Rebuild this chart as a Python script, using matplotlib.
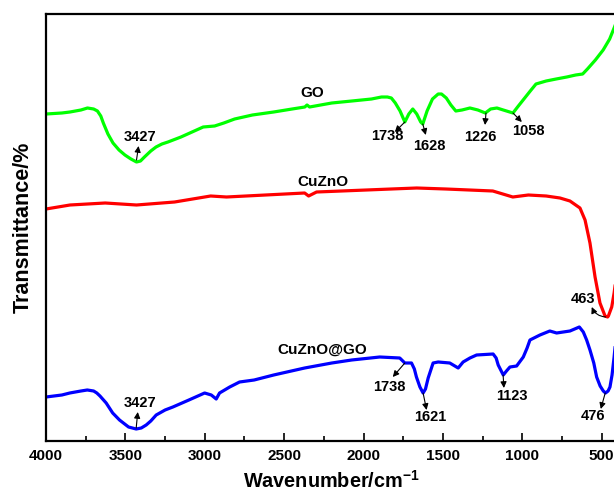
import matplotlib
matplotlib.use("Agg")
import matplotlib.pyplot as plt

plt.rcParams['font.family'] = ['Liberation Sans', 'DejaVu Sans']
plt.rcParams['font.weight'] = 'bold'
plt.rcParams['axes.labelweight'] = 'bold'
plt.rcParams['mathtext.fontset'] = 'custom'
plt.rcParams['mathtext.bf'] = 'Liberation Sans:bold'
plt.rcParams['mathtext.rm'] = 'Liberation Sans:bold'

# FTIR spectra, transmittance in arbitrary units (offset curves)
go_wn = [4000, 3900, 3849, 3780, 3739, 3700, 3676, 3655, 3639, 3610, 3578, 3540, 3503,
         3465, 3430, 3405, 3380, 3340, 3307, 3270, 3232, 3150, 3080, 3010, 2938, 2880,
         2812, 2700, 2566, 2450, 2370, 2356, 2340, 2200, 2074, 1950, 1887, 1850, 1825,
         1800, 1770, 1740, 1715, 1690, 1665, 1640, 1627, 1600, 1566, 1530, 1509, 1479,
         1450, 1419, 1380, 1330, 1280, 1233, 1200, 1160, 1120, 1059, 1030, 995, 950,
         914, 850, 787, 720, 664, 620, 590, 540, 491, 450, 422, 400]
go_t = [327, 328, 329, 331, 333, 332, 330, 325, 318, 307, 298, 291, 286,
        282, 279, 280, 284, 290, 294, 297, 299, 304, 309, 314, 315, 318,
        322, 326, 329, 332, 334, 336, 334, 338, 340, 342, 344, 344, 343,
        338, 330, 319, 327, 332, 327, 319, 317, 330, 342, 347, 347, 343,
        336, 330, 331, 333, 331, 328, 332, 333, 331, 328, 334, 341, 350,
        357, 360, 362, 364, 366, 367, 372, 381, 391, 402, 413, 422]

cuzno_wn = [4000, 3849, 3627, 3430, 3190, 2963, 2863, 2371, 2346, 2296, 1825, 1665, 1482,
            1186, 1060, 962, 850, 763, 700, 637, 605, 574, 542, 511, 479, 463, 458,
            437, 422, 400]
cuzno_t = [232, 236, 238, 236, 239, 245, 244, 248, 245, 249, 252, 253, 252,
           250, 244, 246, 245, 243, 240, 233, 221, 198, 164, 138, 125, 124, 125,
           134, 148, 175]

cznogo_wn = [4000, 3900, 3850, 3780, 3740, 3700, 3680, 3660, 3621, 3580, 3537, 3480, 3432,
             3400, 3369, 3340, 3306, 3250, 3201, 3100, 3001, 2959, 2928, 2907, 2843, 2781,
             2689, 2566, 2371, 2200, 2075, 1898, 1772, 1740, 1698, 1680, 1667, 1645, 1625,
             1610, 1593, 1562, 1530, 1457, 1404, 1373, 1330, 1288, 1184, 1165, 1152, 1120,
             1100, 1078, 1036, 994, 970, 952, 889, 827, 784, 700, 641, 616, 595, 574,
             550, 532, 510, 490, 476, 460, 448, 435, 422, 400]
cznogo_t = [44, 46, 48, 50, 51, 50, 48, 45, 38, 28, 21, 14, 12,
            13, 16, 20, 26, 31, 34, 41, 48, 46, 42, 48, 54, 59,
            61, 66, 73, 78, 81, 84, 83, 78, 78, 72, 64, 54, 48,
            52, 63, 78, 79, 78, 73, 79, 83, 86, 87, 83, 76, 66,
            70, 74, 75, 84, 93, 101, 106, 110, 108, 110, 114, 109, 101, 91,
            78, 64, 55, 50, 48, 50, 54, 66, 84, 120]

# peak labels: (text, label x, label y, arrow tail x, tail y, arrow head x, head y)
go_peaks = [("3427", 3405, 304, 3430, 281, 3417, 295),
            ("1738", 1852, 305, 1740, 319, 1803, 309),
            ("1628", 1589, 295, 1627, 317, 1608, 306),
            ("1226", 1267, 304, 1229, 328, 1235, 316),
            ("1058", 965, 310, 1059, 328, 1003, 319)]
cuzno_peaks = [("463", 620, 142, 475, 124, 563, 134)]
cznogo_peaks = [("3427", 3411, 38, 3432, 13, 3422, 29),
                ("1738", 1835, 54, 1740, 78, 1816, 64),
                ("1621", 1583, 24, 1625, 48, 1603, 31),
                ("1123", 1068, 45, 1121, 66, 1116, 53),
                ("476", 553, 25, 478, 48, 506, 32)]

names = ["GO", "CuZnO", "CuZnO@GO"]
name_pos = [(2320, 348), (2257, 259), (2257, 91)]

fig = plt.figure(figsize=(6.14, 4.93), dpi=100)
ax = fig.add_axes([46 / 614, 52 / 493, (617.6 - 46) / 614, 427 / 493])

ax.plot(go_wn, go_t, color='#00ff00', lw=2.3)
ax.plot(cuzno_wn, cuzno_t, color='#ff0000', lw=2.3)
ax.plot(cznogo_wn, cznogo_t, color='#0000ff', lw=2.3)

for peaks, rad in [(go_peaks, 0), (cuzno_peaks, -0.3), (cznogo_peaks, 0)]:
    for lab, lx, ly, tx, ty, hx, hy in peaks:
        ax.annotate('', xy=(hx, hy), xytext=(tx, ty),
                    arrowprops=dict(arrowstyle='-|>', color='black', lw=0.8,
                                    mutation_scale=9, shrinkA=0, shrinkB=0,
                                    connectionstyle='arc3,rad=%s' % rad))
        ax.text(lx, ly, lab, fontsize=10.5, ha='center', va='center')

for n, (x, y) in zip(names, name_pos):
    ax.text(x, y, n, fontsize=11, ha='center', va='center')

ax.set_xlim(4000, 400)
ax.set_ylim(0, 427)
ax.set_xticks([4000, 3500, 3000, 2500, 2000, 1500, 1000, 500])
ax.set_xticks([3750, 3250, 2750, 2250, 1750, 1250, 750], minor=True)
ax.set_yticks([])
ax.tick_params(axis='x', which='major', direction='in', length=5.5, width=1.2,
               labelsize=11, pad=6)
ax.tick_params(axis='x', which='minor', direction='in', length=3.5, width=1.2)
for s in ax.spines.values():
    s.set_linewidth(1.6)

ax.set_xlabel(r'Wavenumber/cm$^{\mathbf{-1}}$', fontsize=14.3, fontweight='bold', labelpad=5)
ax.set_ylabel('Transmittance/%', fontsize=15.5, fontweight='bold', labelpad=9)

fig.savefig('out.png', dpi=100)
